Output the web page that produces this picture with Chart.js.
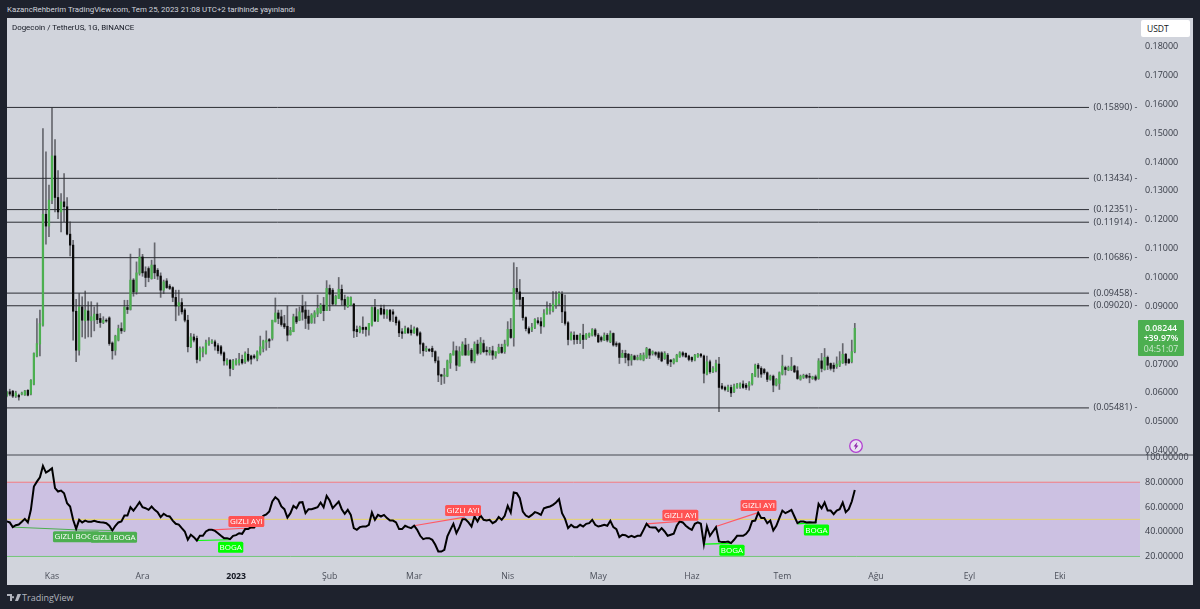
<!DOCTYPE html>
<html lang="tr">
<head>
<meta charset="utf-8">
<title>Dogecoin / TetherUS</title>
<script src="https://cdn.jsdelivr.net/npm/chart.js@4"></script>
<style>
html,body{margin:0;padding:0;width:1200px;height:609px;overflow:hidden;background:#1e222d;font-family:"Open Sans",sans-serif}
#pane{position:absolute;left:7px;top:18px;width:1186px;height:567px;background:#d1d4dc}
#sep{position:absolute;left:7px;top:454px;width:1186px;height:2px;background:#8b8e96}
canvas{position:absolute;display:block}
#priceCanvas{left:7px;top:18px}
#rsiCanvas{left:7px;top:440px}
.t{position:absolute;white-space:nowrap;line-height:1}
#pub{left:7px;top:5px;font:7.85px Roboto,sans-serif;color:#d1d4dc}
#title{left:12px;top:23px;font:7.9px Roboto,sans-serif;color:#131722}
#usdt{left:1141px;top:20px;width:49px;height:17px;background:#fff;border-radius:2px;font-size:8.5px;line-height:17px;color:#131722;text-indent:6px}
#tag{left:1138px;top:320px;width:46px;height:36px;background:#4caf50;border-radius:1px}
#tag div{position:absolute;left:0;width:46px;text-align:center;font-size:8.7px;line-height:1;color:#fff}
#tv{left:22px;top:593px;font-size:9px;color:#b2b5be}
#logo{position:absolute;left:7px;top:594px}
#bolt{position:absolute;left:848px;top:438px}
</style>
</head>
<body>
<div id="pane"></div>
<canvas id="priceCanvas" width="1186" height="437" style="width:1186px;height:437px"></canvas>
<div id="sep"></div>
<canvas id="rsiCanvas" width="1186" height="145" style="width:1186px;height:145px"></canvas>
<div class="t" id="pub">KazancRehberim TradingView.com, Tem 25, 2023 21:08 UTC+2 tarihinde yayınlandı</div>
<div class="t" id="title">Dogecoin / TetherUS, 1G, BINANCE</div>
<div class="t" id="usdt">USDT</div>
<div class="t" id="tag"><div style="top:4px;font-weight:600">0.08244</div><div style="top:14px;font-weight:600">+39.97%</div><div style="top:25px;color:#cfe9d0">04:51:07</div></div>
<svg id="logo" width="14" height="9" viewBox="0 0 14 9"><path fill="#b2b5be" d="M0 0h5v7H3V2H0zM10.5 0H14l-3 7H8zM6 2a1.1 1.1 0 1 0 .01 0z"/></svg>
<div class="t" id="tv">TradingView</div>
<svg id="bolt" width="16" height="16" viewBox="0 0 16 16"><circle cx="8" cy="8" r="6.3" fill="#e9e3f2" stroke="#b13fd0" stroke-width="1.3"/><path fill="#8e24aa" d="M9.3 4 5.6 8.6h2L6.7 12l3.7-4.6h-2z"/></svg>
<script>
// first candle is 15 days before 1 Kasım 2022 (day 0)
const firstDay = -15;
const open = [
.0590,.0604,.0606,.0589,.0592,.0596,.0593,.0609,.0596,.0630,
.0727,.0769,.0835,.1219,.1178,.1268,.1421,.1277,.1227,.1262,
.1245,.1150,.1112,.0883,.0748,.0898,.0850,.0884,.0850,.0852,
.0873,.0858,.0844,.0852,.0860,.0773,.0748,.0783,.0823,.0817,
.0896,.0889,.0991,.0950,.1014,.1071,.1020,.1031,.0996,.1043,
.1025,.1005,.0956,.0988,.0970,.0965,.0931,.0901,.0913,.0887,
.0852,.0760,.0794,.0789,.0716,.0742,.0737,.0769,.0775,.0777,
.0764,.0760,.0739,.0700,.0713,.0685,.0700,.0704,.0716,.0708,
.0734,.0728,.0728,.0719,.0737,.0754,.0776,.0785,.0789,.0846,
.0877,.0864,.0840,.0831,.0802,.0812,.0864,.0852,.0900,.0887,
.0866,.0843,.0862,.0873,.0878,.0904,.0885,.0962,.0956,.0908,
.0927,.0959,.0924,.0899,.0904,.0908,.0820,.0812,.0827,.0827,
.0818,.0835,.0896,.0849,.0893,.0889,.0870,.0887,.0881,.0862,
.0847,.0812,.0808,.0823,.0818,.0808,.0823,.0808,.0771,.0748,
.0751,.0754,.0743,.0711,.0663,.0658,.0658,.0704,.0731,.0746,
.0693,.0731,.0766,.0731,.0748,.0711,.0769,.0739,.0771,.0748,
.0739,.0746,.0728,.0739,.0758,.0743,.0766,.0820,.0792,.0962,
.0950,.0931,.0861,.0823,.0818,.0827,.0850,.0847,.0832,.0873,
.0885,.0885,.0904,.0910,.0942,.0881,.0843,.0785,.0800,.0800,
.0783,.0800,.0789,.0797,.0800,.0818,.0800,.0792,.0783,.0800,
.0777,.0806,.0771,.0771,.0723,.0737,.0734,.0714,.0728,.0716,
.0716,.0714,.0723,.0751,.0737,.0740,.0739,.0739,.0719,.0731,
.0714,.0704,.0708,.0725,.0739,.0737,.0728,.0723,.0714,.0725,
.0734,.0728,.0665,.0708,.0673,.0677,.0700,.0624,.0619,.0610,
.0619,.0604,.0619,.0621,.0631,.0627,.0624,.0631,.0658,.0696,
.0685,.0681,.0670,.0647,.0658,.0627,.0633,.0665,.0688,.0679,
.0681,.0693,.0677,.0647,.0654,.0661,.0658,.0650,.0656,.0650,
.0711,.0681,.0723,.0702,.0696,.0691,.0696,.0704,.0734,.0716,.0708,.0743];
const high = [
.0606,.0613,.0609,.0606,.0596,.0603,.0609,.0612,.0646,.0739,
.0858,.0887,.1516,.1435,.1320,.1588,.1478,.1370,.1291,.1360,
.1277,.1193,.1129,.0924,.0944,.0933,.0953,.0916,.0916,.0898,
.0912,.0875,.0864,.0857,.0864,.0777,.0800,.0835,.0843,.0921,
.0921,.1081,.0996,.1054,.1100,.1080,.1037,.1037,.1060,.1120,
.1031,.1016,.0991,.0996,.0976,.0968,.0956,.0956,.0927,.0892,
.0869,.0806,.0804,.0797,.0760,.0760,.0783,.0792,.0785,.0783,
.0771,.0765,.0742,.0719,.0716,.0716,.0719,.0737,.0731,.0742,
.0754,.0731,.0733,.0746,.0797,.0783,.0815,.0789,.0852,.0929,
.0887,.0887,.0869,.0901,.0827,.0873,.0892,.0898,.0939,.0916,
.0887,.0875,.0885,.0939,.0910,.0931,.0989,.0974,.0962,.0939,
.1000,.0974,.0939,.0933,.0933,.0910,.0832,.0832,.0864,.0829,
.0841,.0898,.0924,.0889,.0904,.0904,.0889,.0889,.0889,.0866,
.0852,.0823,.0832,.0827,.0835,.0829,.0827,.0812,.0774,.0762,
.0754,.0762,.0746,.0725,.0665,.0685,.0714,.0737,.0777,.0762,
.0760,.0777,.0789,.0769,.0754,.0777,.0783,.0792,.0783,.0760,
.0758,.0762,.0743,.0769,.0769,.0783,.0847,.0858,.1051,.1035,
.0993,.0931,.0864,.0829,.0841,.0858,.0861,.0861,.0889,.0916,
.0910,.0951,.0951,.0951,.0951,.0939,.0847,.0812,.0812,.0800,
.0806,.0838,.0806,.0808,.0823,.0823,.0806,.0797,.0808,.0806,
.0815,.0808,.0777,.0774,.0748,.0748,.0737,.0734,.0731,.0731,
.0737,.0739,.0758,.0754,.0746,.0743,.0743,.0743,.0743,.0737,
.0716,.0719,.0734,.0743,.0743,.0739,.0731,.0725,.0734,.0737,
.0737,.0731,.0728,.0714,.0691,.0714,.0723,.0633,.0624,.0627,
.0627,.0631,.0633,.0635,.0642,.0633,.0639,.0668,.0700,.0702,
.0691,.0685,.0673,.0662,.0662,.0650,.0673,.0731,.0693,.0693,
.0723,.0696,.0691,.0662,.0665,.0665,.0668,.0658,.0662,.0719,
.0737,.0754,.0728,.0704,.0704,.0725,.0743,.0771,.0737,.0719,.0783,.0841];
const low = [
.0586,.0590,.0584,.0584,.0575,.0593,.0591,.0590,.0593,.0628,
.0725,.0728,.0831,.1115,.1141,.1256,.1227,.1204,.1158,.1193,
.1147,.1075,.0783,.0708,.0731,.0794,.0789,.0794,.0794,.0815,
.0840,.0827,.0840,.0845,.0765,.0717,.0731,.0780,.0806,.0812,
.0875,.0887,.0935,.0942,.1008,.1004,.0968,.0985,.0994,.0996,
.0993,.0931,.0944,.0962,.0958,.0916,.0850,.0869,.0873,.0846,
.0742,.0757,.0777,.0704,.0711,.0725,.0734,.0765,.0771,.0748,
.0737,.0731,.0696,.0696,.0659,.0681,.0696,.0696,.0700,.0702,
.0708,.0700,.0718,.0711,.0731,.0742,.0748,.0757,.0783,.0846,
.0840,.0831,.0823,.0780,.0800,.0812,.0840,.0850,.0852,.0823,
.0820,.0841,.0841,.0864,.0875,.0850,.0885,.0885,.0904,.0904,
.0927,.0904,.0889,.0896,.0902,.0792,.0795,.0808,.0806,.0797,
.0800,.0831,.0847,.0847,.0870,.0858,.0858,.0847,.0847,.0835,
.0795,.0789,.0806,.0806,.0800,.0806,.0797,.0737,.0728,.0743,
.0743,.0725,.0704,.0639,.0629,.0633,.0656,.0685,.0731,.0677,
.0693,.0731,.0731,.0731,.0704,.0704,.0731,.0734,.0739,.0731,
.0731,.0716,.0720,.0737,.0737,.0737,.0762,.0789,.0762,.0924,
.0901,.0852,.0815,.0804,.0812,.0823,.0838,.0806,.0829,.0873,
.0873,.0881,.0893,.0904,.0843,.0835,.0766,.0783,.0769,.0771,
.0771,.0754,.0785,.0792,.0797,.0795,.0774,.0777,.0781,.0777,
.0774,.0762,.0760,.0702,.0723,.0704,.0694,.0696,.0714,.0714,
.0714,.0711,.0719,.0719,.0731,.0728,.0716,.0708,.0716,.0696,
.0691,.0700,.0708,.0723,.0725,.0723,.0711,.0708,.0711,.0723,
.0723,.0635,.0662,.0668,.0670,.0673,.0535,.0612,.0607,.0604,
.0587,.0601,.0616,.0616,.0616,.0612,.0610,.0627,.0656,.0654,
.0654,.0665,.0639,.0644,.0604,.0624,.0612,.0662,.0662,.0677,
.0677,.0670,.0647,.0644,.0650,.0650,.0635,.0647,.0642,.0647,
.0673,.0679,.0681,.0679,.0673,.0685,.0691,.0702,.0696,.0702,.0704,.0739];
const close = [
.0604,.0596,.0589,.0600,.0586,.0600,.0607,.0592,.0644,.0737,
.0771,.0840,.1219,.1178,.1268,.1421,.1277,.1227,.1262,.1245,
.1150,.1112,.0883,.0748,.0898,.0852,.0887,.0852,.0864,.0873,
.0854,.0844,.0852,.0849,.0771,.0746,.0797,.0823,.0815,.0898,
.0889,.0991,.0950,.1016,.1071,.1016,.1000,.1000,.1043,.1016,
.1005,.0956,.0985,.0965,.0962,.0931,.0901,.0913,.0881,.0852,
.0760,.0794,.0783,.0716,.0754,.0754,.0773,.0780,.0780,.0762,
.0746,.0737,.0711,.0713,.0685,.0711,.0713,.0716,.0704,.0737,
.0713,.0717,.0723,.0742,.0760,.0780,.0783,.0780,.0852,.0877,
.0858,.0837,.0829,.0800,.0817,.0864,.0846,.0881,.0880,.0858,
.0841,.0870,.0878,.0893,.0904,.0885,.0962,.0942,.0908,.0935,
.0959,.0922,.0904,.0931,.0931,.0815,.0812,.0827,.0820,.0820,
.0841,.0896,.0849,.0887,.0873,.0873,.0885,.0852,.0873,.0843,
.0808,.0806,.0823,.0808,.0808,.0823,.0800,.0769,.0746,.0754,
.0746,.0743,.0711,.0662,.0658,.0662,.0711,.0734,.0746,.0696,
.0743,.0769,.0731,.0746,.0711,.0769,.0737,.0774,.0743,.0743,
.0748,.0731,.0743,.0758,.0740,.0769,.0820,.0792,.0962,.0950,
.0924,.0861,.0823,.0808,.0827,.0855,.0843,.0832,.0875,.0893,
.0889,.0908,.0924,.0945,.0881,.0841,.0785,.0806,.0785,.0785,
.0800,.0785,.0804,.0806,.0820,.0800,.0777,.0783,.0800,.0783,
.0806,.0766,.0766,.0723,.0737,.0723,.0714,.0728,.0716,.0723,
.0731,.0731,.0754,.0731,.0743,.0734,.0723,.0711,.0737,.0702,
.0708,.0716,.0731,.0739,.0731,.0725,.0716,.0714,.0731,.0734,
.0728,.0668,.0708,.0673,.0685,.0702,.0619,.0616,.0612,.0621,
.0600,.0624,.0631,.0631,.0619,.0619,.0635,.0665,.0696,.0685,
.0665,.0670,.0647,.0658,.0627,.0647,.0670,.0693,.0681,.0688,
.0691,.0673,.0650,.0658,.0661,.0654,.0654,.0656,.0647,.0711,
.0685,.0723,.0696,.0685,.0685,.0700,.0711,.0734,.0704,.0704,.0743,.0824];
const rsi = [
48.3,47.5,43.7,45.3,45.8,48,50.4,47.5,57.7,76.5,
80.5,84,93.2,87.8,89.4,91.3,75.2,72.5,73.3,71.1,
63,60.4,49.6,42.3,49.6,47.5,49,48,48,48.8,
48,47.7,47.5,46.9,44.8,41,44.8,47.5,48.3,53.1,
53.1,59.8,57.1,60.4,63.9,59.8,59,57.7,60.4,57.7,
55.8,51.8,54.5,52.8,52.3,49,46.4,45.8,42.9,40.2,
33.5,37.5,35.6,32.9,36.7,36.7,40.2,41.5,41.5,40.7,
38.8,36.7,34.8,34.8,34,36.7,37.2,38.8,38.3,42.1,
42.1,43.7,43.4,46.9,49.6,52.8,53.9,56.3,64.4,67.9,
65.8,60.4,58.2,51.5,55,60.9,59,63.6,
63.9,55,58.2,58.2,59,59.8,63.6,59.8,69,65.2,
59,61.7,64.4,58.2,54.5,57.7,53.6,42.9,41.5,43.7,
44.2,44.2,45.6,55.5,49.6,53.6,52.3,53.6,51,49,
49,47.5,42.1,42.1,44.8,43.7,42.9,44.8,41.5,36.7,
34,34.8,34.8,33.5,29.4,24,24,25.4,36.2,41.5,
46.4,38.8,43.7,50.1,50.1,47.5,44.2,52.3,48.3,53.1,
49.6,49,49.6,46.9,48.3,51.8,49.6,52.8,60.9,55.5,
71.7,71.1,67.1,56.3,53.1,51.8,53.6,55.8,55,53.6,
59,59.8,60.4,61.7,63.6,66.3,55,50.4,42.9,45.6,
43.7,43.7,45.6,44.2,46.4,46.9,49.6,45.6,44.2,
44.8,45.6,44.8,48.8,43.7,42.1,35.6,37.5,37.2,35.6,
36.7,35.6,36.7,36.7,41.5,46.4,43.7,43.4,43.4,40.2,
42.9,40.2,36.7,37.5,38.3,44.8,48.3,47.5,44.8,42.9,
41.5,46.4,47.5,46.4,30,44.2,36.7,40.2,43.7,32.1,
31.6,31.6,32.1,30.8,33.5,36.7,36.7,36.7,38.3,41.5,
48.5,49,55.5,51,51,46.9,49,41,44.8,51,
57.1,55,56.3,57.7,52.3,46.9,48.3,48.3,47.5,47.7,
47.5,47.5,62.5,59,63.6,57.1,57.1,54.2,57.1,58.2,
63.6,55.8,58.2,64.4,73.8];
const levels = [0.15890,0.13434,0.12351,0.11914,0.10686,0.09458,0.09020,0.05481];
const priceTicks = [0.04,0.05,0.06,0.07,0.08,0.09,0.10,0.11,0.12,0.13,0.14,0.15,0.16,0.17,0.18];
const rsiTicks = [20,40,60,80,100];
const monthDays = [0,30,61,92,120,151,181,212,242,273,304,334];
const monthNames = ["Kas","Ara","2023","Şub","Mar","Nis","May","Haz","Tem","Ağu","Eyl","Eki"];
// divergence lines: start day, start rsi, end day, end rsi
const bullHiddenLines = [[-12.8,43.7,8.2,41.5],[8.2,41.5,20.3,41]];
const bullLines = [[47.9,32.9,59,33.5],[216.1,30,225.2,30.5],[247.1,46.4,253.4,47.5]];
const bearHiddenLines = [[53.2,41.5,67.3,43.2],[119.9,44.8,136.8,51.8],[197,46.4,208,48.3],[220,44.2,234.4,55.8]];
// labels: text, colour kind, day, rsi (centre)
const rsiLabels = [
 ["GIZLI BOGA","h",8,35.9],["GIZLI BOGA","h",20.5,35.6],["BOGA","b",59.2,27.5],
 ["GIZLI AYI","a",64.4,48.3],["GIZLI AYI","a",136.2,57.1],["GIZLI AYI","a",208.2,53.4],
 ["BOGA","b",225.3,25.1],["GIZLI AYI","a",234.1,61.2],["BOGA","b",253.3,41.3]];

const days = open.map((_, i) => firstDay + i);
const GREEN = "#4caf50", BLACK = "#0c0c0c";
const XMIN = -14.91, XMAX = 360.5, LINE_END = 343.6;
const FONT = '"Open Sans", sans-serif';
const isUp = i => close[i] >= open[i];

const xBase = {type:"linear",min:XMIN,max:XMAX,offset:false,grid:{display:false,drawTicks:false},border:{display:false}};
const seg = (s,color,w) => ({type:"line",data:[{x:s[0],y:s[1]},{x:s[2],y:s[3]}],borderColor:color,borderWidth:w,pointRadius:0,tension:0,order:1});
const hline = (y,color,x2) => ({type:"line",data:[{x:XMIN,y:y},{x:x2,y:y}],borderColor:color,borderWidth:1,pointRadius:0,order:5});
const fitY = s => {s.width=53;s.paddingTop=0;s.paddingBottom=0;s.paddingLeft=0;s.paddingRight=0};
const fitX = s => {s.height=20;s.paddingTop=0;s.paddingBottom=0;s.paddingLeft=0;s.paddingRight=0};

const levelLabels = {id:"levelLabels",afterDatasetsDraw(c){
  const {ctx,scales:{y}} = c;
  ctx.save();ctx.font='9px '+FONT;ctx.fillStyle="#363a45";ctx.textBaseline="middle";ctx.textAlign="left";
  levels.forEach(v=>ctx.fillText("("+v.toFixed(5)+") -",c.scales.x.getPixelForValue(LINE_END)+4.5,y.getPixelForValue(v)));
  ctx.restore();
}};
new Chart(document.getElementById("priceCanvas"),{
  type:"bar",
  data:{datasets:[
    {label:"wick",data:days.map((d,i)=>({x:d,y:[low[i],high[i]]})),backgroundColor:"rgba(45,45,50,.65)",barThickness:1,grouped:false,order:3},
    {label:"body",data:days.map((d,i)=>({x:d,y:[Math.min(open[i],close[i]),Math.max(open[i],close[i])]})),backgroundColor:days.map((d,i)=>isUp(i)?GREEN:BLACK),barThickness:1.6,grouped:false,order:2},
    ...levels.map(v=>hline(v,"#2b2d33",LINE_END))
  ]},
  options:{responsive:false,animation:false,devicePixelRatio:1,layout:{padding:0},
    plugins:{legend:{display:false},tooltip:{enabled:false}},
    scales:{
      x:{...xBase,display:false},
      y:{type:"linear",position:"right",min:0.03850,max:0.18988,
        afterFit:fitY,
        afterBuildTicks(s){s.ticks=priceTicks.map(v=>({value:v}))},
        grid:{display:false,drawTicks:false},border:{display:false},
        ticks:{padding:5,color:"#363a45",font:{family:FONT,size:9},callback:v=>v.toFixed(5),autoSkip:false}}
    }
  },
  plugins:[levelLabels]
});

const labelColors = {h:"#4caf50",b:"#00ff00",a:"#ff5252"};
const rsiBadges = {id:"rsiBadges",afterDatasetsDraw(c){
  const {ctx,scales:{x,y}} = c;
  ctx.save();ctx.font='8px '+FONT;ctx.textAlign="center";ctx.textBaseline="middle";
  rsiLabels.forEach(([t,k,d,v])=>{
    const w=ctx.measureText(t).width+3,h=11,px=x.getPixelForValue(d),py=y.getPixelForValue(v);
    ctx.fillStyle=labelColors[k];ctx.beginPath();ctx.roundRect(px-w/2,py-h/2,w,h,1.5);ctx.fill();
    ctx.fillStyle="#fff";ctx.fillText(t,px,py+.3);
  });
  ctx.restore();
}};
new Chart(document.getElementById("rsiCanvas"),{
  type:"line",
  data:{datasets:[
    {data:[{x:XMIN,y:80},{x:XMAX,y:80}],borderColor:"#f37a80",borderWidth:1,pointRadius:0,fill:{target:{value:20},above:"#ccc1e2"},order:6},
    hline(50,"#e8d468",XMAX),
    hline(20,"#74c67a",XMAX),
    ...bullHiddenLines.map(s=>seg(s,"#4caf50",1)),
    ...bullLines.map(s=>seg(s,"#00ff00",1.2)),
    ...bearHiddenLines.map(s=>seg(s,"#ff5a64",1.2)),
    {data:days.map((d,i)=>({x:d,y:rsi[i]})),borderColor:"#000",borderWidth:2,pointRadius:0,tension:0,order:0}
  ]},
  options:{responsive:false,animation:false,devicePixelRatio:1,layout:{padding:{top:16}},
    plugins:{legend:{display:false},tooltip:{enabled:false}},
    scales:{
      x:{...xBase,
        afterFit:fitX,
        afterBuildTicks(s){s.ticks=monthDays.map(v=>({value:v}))},
        ticks:{autoSkip:false,maxRotation:0,padding:6,callback:(v,i)=>monthNames[i],
          color:c=>c.tick&&c.tick.value===61?"#131722":"#4a4e59",
          font:c=>({family:FONT,size:8.7,weight:c.tick&&c.tick.value===61?"700":"400"})}},
      y:{type:"linear",position:"right",min:13.1,max:101.2,
        afterFit:fitY,
        afterBuildTicks(s){s.ticks=rsiTicks.map(v=>({value:v}))},
        grid:{display:false,drawTicks:false},border:{display:false},
        ticks:{padding:5,color:"#363a45",font:{family:FONT,size:9},callback:v=>v.toFixed(5),autoSkip:false}}
    }
  },
  plugins:[rsiBadges]
});
</script>
</body>
</html>
